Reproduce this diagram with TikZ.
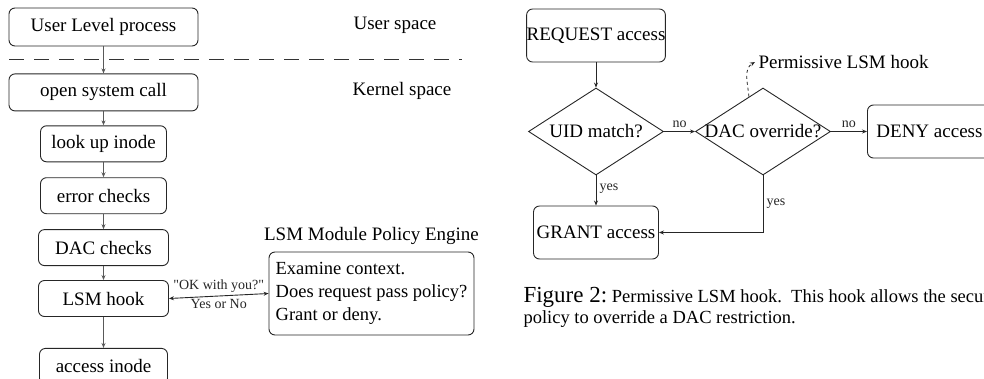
\documentclass[tikz,border=0pt]{standalone}
\usepackage{fontspec}
\setmainfont{Liberation Serif}[Ligatures=TeXOff]
\usetikzlibrary{shapes.geometric, arrows.meta, positioning}

\begin{document}
\begin{tikzpicture}[
    x=1pt, y=1pt,
    font=\fontsize{19}{22}\selectfont,
    >={Stealth[length=5pt,width=4pt]},
    base/.style={draw=black!85, rounded corners=6pt, line width=0.9pt, align=center, inner sep=0pt},
    stage/.style={base, minimum width=126pt, minimum height=36pt},
    wide/.style={base, minimum width=189pt, minimum height=37pt},
    outcome/.style={base, minimum height=53pt},
    decision/.style={diamond, draw=black!85, line width=0.9pt, minimum width=135pt, minimum height=87pt, inner sep=0pt},
    arrow/.style={->, line width=0.9pt, color=black!65},
    flow/.style={->, line width=0.8pt, color=black!85},
    tag/.style={font=\fontsize{14}{15}\selectfont}
]
\useasboundingbox (0,0) rectangle (984,-378);
\clip (0,0) rectangle (984,-378);

% Left Column
\node[wide, minimum height=38pt] (user) at (103.5,-27) {User Level process};
\node[wide, below=27pt of user] (syscall) {open system call};
\node[stage, below=14pt of syscall] (lookup) {look up inode};
\node[stage, below=15pt of lookup] (errors) {error checks};
\node[stage, minimum width=130pt, below=15pt of errors] (dac) {DAC checks};
\node[stage, minimum width=130pt, below=14pt of dac] (hook) {LSM hook};
\node[stage, minimum width=128pt, below=31pt of hook] (access) {access inode};

% Space labels
\node (userspace) at (395,-25) {User space};
\node (kernelspace) at (402,-91) {Kernel space};
\draw[black!80, line width=0.9pt, dash pattern=on 15pt off 10pt] (9,-59) -- (462,-59);

% Policy engine
\node[base, minimum width=205pt, minimum height=83pt, align=left, font=\fontsize{18.5}{23}\selectfont,
      label={[label distance=3pt]above:LSM Module Policy Engine}] (policy) at (371.5,-293.5)
      {Examine context.\\Does request pass policy?\\Grant or deny.};

% Right Column
\node[outcome, minimum width=132pt] (request) at (596,-35.5) {REQUEST access};
\node[decision] (uid) at (596,-131.5) {\makebox[0pt]{UID match?}};
\node[decision] (override) at (763,-131.5) {\makebox[0pt]{DAC override?}};
\node[outcome, minimum width=124pt, anchor=west] (deny) at (867,-131.5) {DENY access};
\node[outcome, minimum width=125pt] (grant) at (596,-232.5) {GRANT access};
\node[anchor=west] (permissive) at (755,-62) {Permissive LSM hook};

% Caption
\node[anchor=base west, align=left, font=\fontsize{18.5}{21}\selectfont] (caption) at (520,-323)
    {{\fontsize{23}{21}\selectfont Figure 2:}\ Permissive LSM hook.\ \ This hook allows the security\\policy to override a DAC restriction.};

% Connections
% Kernel path
\draw[arrow] (user) -- (syscall);
\draw[arrow] (syscall) -- (lookup);
\draw[arrow] (lookup) -- (errors);
\draw[arrow] (errors) -- (dac);
\draw[arrow] (dac) -- (hook);
\draw[arrow] (hook) -- (access);

% Hook <-> policy
\draw[arrow, <->, color=black!85] (hook.east) -- node[above, tag] {"OK with you?"} node[below, tag] {Yes or No} (policy.west);

% Decision flow
\draw[flow] (request) -- (uid);
\draw[flow] (uid) -- node[above, tag] {no} (override);
\draw[flow] (override) -- node[above, tag] {no} (deny);
\draw[flow] (uid) -- node[right, tag, pos=0.45] {yes} (grant);
\draw[flow] (override.south) |- node[right, tag, pos=0.25] {yes} (grant.east);
\draw[flow, dashed] (override.112) to[out=95, in=210] (permissive.west);

\end{tikzpicture}
\end{document}
